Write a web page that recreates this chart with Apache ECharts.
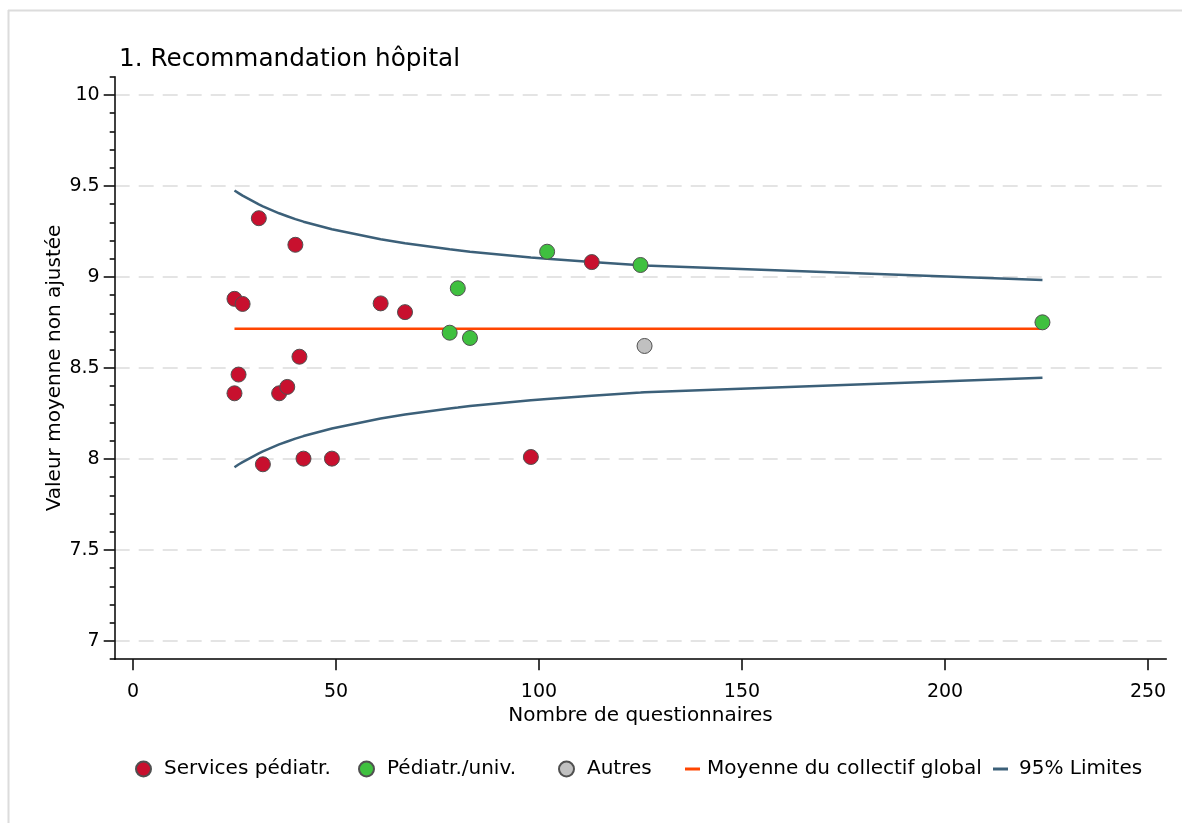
<!DOCTYPE html>
<html><head><meta charset="utf-8">
<script src="https://cdn.jsdelivr.net/npm/echarts@6/dist/echarts.min.js"></script>
<style>html,body{margin:0;padding:0;background:#fff}#c{width:1182px;height:823px}</style>
</head><body><div id="c"></div>
<script>
const titleText = '1. Recommandation hôpital';
const xAxisTitle = 'Nombre de questionnaires';
const yAxisTitle = 'Valeur moyenne non ajustée';
const xTicks = [0, 50, 100, 150, 200, 250];
const yTicks = [7, 7.5, 8, 8.5, 9, 9.5, 10];
const yMinorTicks = [6.9, 7.0, 7.1, 7.2, 7.3, 7.4, 7.5, 7.6, 7.7, 7.8, 7.9, 8.0, 8.1, 8.2, 8.3, 8.4, 8.5, 8.6, 8.7, 8.8, 8.9, 9.0, 9.1, 9.2, 9.3, 9.4, 9.5, 9.6, 9.7, 9.8, 9.9, 10.0, 10.1];
const seriesNames = ['Services pédiatr.', 'Pédiatr./univ.', 'Autres', 'Moyenne du collectif global', '95% Limites'];

const servicesPediatr = [[25, 8.88], [27, 8.852], [31, 9.323], [40, 9.177], [61, 8.855], [67, 8.807], [41, 8.562], [26, 8.464], [25, 8.361], [36, 8.361], [38, 8.396], [32, 7.971], [42, 8.002], [49, 8.002], [98, 8.011], [113, 9.082]];
const pediatrUniv = [[80, 8.938], [78, 8.694], [83, 8.665], [102, 9.139], [125, 9.066], [224, 8.751]];
const autres = [[126, 8.621]];

const meanValue = 8.715;
const limitN = [25, 26, 27, 31, 32, 36, 38, 40, 41, 42, 49, 61, 67, 78, 80, 83, 98, 102, 113, 125, 126, 224];
const upperLimit = [9.475, 9.461, 9.447, 9.399, 9.388, 9.350, 9.334, 9.318, 9.311, 9.304, 9.262, 9.207, 9.185, 9.152, 9.147, 9.139, 9.107, 9.100, 9.082, 9.065, 9.063, 8.984];
const lowerLimit = [7.955, 7.970, 7.983, 8.031, 8.042, 8.080, 8.096, 8.112, 8.119, 8.126, 8.168, 8.223, 8.245, 8.278, 8.283, 8.291, 8.323, 8.330, 8.348, 8.365, 8.367, 8.446];

const FONT = 'DejaVu Sans';
const RED = '#c8102e', GREEN = '#3fc03f', GREY = '#c0c0c0', ORANGE = '#ff4500', BLUE = '#3c6079';

const chart = echarts.init(document.getElementById('c'), null, {renderer: 'canvas'});
const legendItem = (left, name, icon, itemHeight, textPad) => ({
  left: left, top: 759, padding: 0, itemHeight: itemHeight, itemWidth: 15, selectedMode: false,
  textStyle: {fontFamily: FONT, fontSize: 20, color: '#000', padding: [0, 0, 0, textPad]},
  data: [{name: name, icon: icon}]
});
const scatterStyle = c => ({color: c, borderColor: '#505050', borderWidth: 1, opacity: 1});

chart.setOption({
  animation: false,
  backgroundColor: '#fff',
  textStyle: {fontFamily: FONT},
  title: {text: titleText, left: 119, top: 47, padding: 0,
          textStyle: {fontFamily: FONT, fontSize: 24.7, fontWeight: 'normal', color: '#000'}},
  graphic: [
    {type: 'line', shape: {x1: 8, y1: 10.5, x2: 1182, y2: 10.5}, style: {stroke: '#dcdcdc', lineWidth: 2}},
    {type: 'line', shape: {x1: 8.5, y1: 10, x2: 8.5, y2: 823}, style: {stroke: '#dcdcdc', lineWidth: 2}}
  ],
  legend: [
    legendItem(135, seriesNames[0], 'circle', 15, 8),
    legendItem(358, seriesNames[1], 'circle', 15, 8),
    legendItem(558, seriesNames[2], 'circle', 15, 8),
    legendItem(685, seriesNames[3], 'rect', 3, 2),
    legendItem(993, seriesNames[4], 'rect', 3, 6)
  ],
  grid: {left: 114.7, right: 15.7, top: 76.8, bottom: 163.8, containLabel: false},
  xAxis: {
    type: 'value', min: -4.5, max: 254.5,
    name: xAxisTitle, nameLocation: 'middle', nameGap: 47, nameMoveOverlap: false,
    nameTextStyle: {fontFamily: FONT, fontSize: 20, color: '#000'},
    axisLine: {show: true, onZero: false, lineStyle: {color: '#000', width: 1.5}},
    axisTick: {show: true, length: 11, customValues: xTicks, lineStyle: {color: '#000', width: 1.5}},
    axisLabel: {customValues: xTicks, margin: 23, fontFamily: FONT, fontSize: 19, color: '#000'},
    splitLine: {show: false}
  },
  yAxis: [{
    type: 'value', min: 6.9, max: 10.1,
    name: yAxisTitle, nameLocation: 'middle', nameGap: 50, nameMoveOverlap: false,
    nameTextStyle: {fontFamily: FONT, fontSize: 20, color: '#000'},
    axisLine: {show: true, onZero: false, lineStyle: {color: '#000', width: 1.5}},
    axisTick: {show: true, length: 11, customValues: yTicks, lineStyle: {color: '#000', width: 1.5}},
    axisLabel: {customValues: yTicks, margin: 15, fontFamily: FONT, fontSize: 19, color: '#000'},
    splitLine: {show: true, lineStyle: {color: '#dcdcdc', width: 1.5, type: [15, 9]}}
  }, {
    type: 'value', min: 6.9, max: 10.1, position: 'left',
    axisLine: {show: false, onZero: false},
    axisTick: {show: true, length: 5, customValues: yMinorTicks, lineStyle: {color: '#000', width: 1.5}},
    axisLabel: {show: false},
    splitLine: {show: false}
  }],
  series: [
    {name: seriesNames[4], type: 'line', data: limitN.map((n, i) => [n, upperLimit[i]]),
     symbol: 'none', smooth: false, lineStyle: {color: BLUE, width: 2.5}, itemStyle: {color: BLUE}, z: 2},
    {name: seriesNames[4], type: 'line', data: limitN.map((n, i) => [n, lowerLimit[i]]),
     symbol: 'none', smooth: false, lineStyle: {color: BLUE, width: 2.5}, itemStyle: {color: BLUE}, z: 2},
    {name: seriesNames[3], type: 'line', data: [[limitN[0], meanValue], [limitN[limitN.length - 1], meanValue]],
     symbol: 'none', lineStyle: {color: ORANGE, width: 2.5}, itemStyle: {color: ORANGE}, z: 2},
    {name: seriesNames[0], type: 'scatter', data: servicesPediatr, symbolSize: 15, itemStyle: scatterStyle(RED), z: 5},
    {name: seriesNames[1], type: 'scatter', data: pediatrUniv, symbolSize: 15, itemStyle: scatterStyle(GREEN), z: 5},
    {name: seriesNames[2], type: 'scatter', data: autres, symbolSize: 15, itemStyle: scatterStyle(GREY), z: 5}
  ]
});
</script></body></html>
